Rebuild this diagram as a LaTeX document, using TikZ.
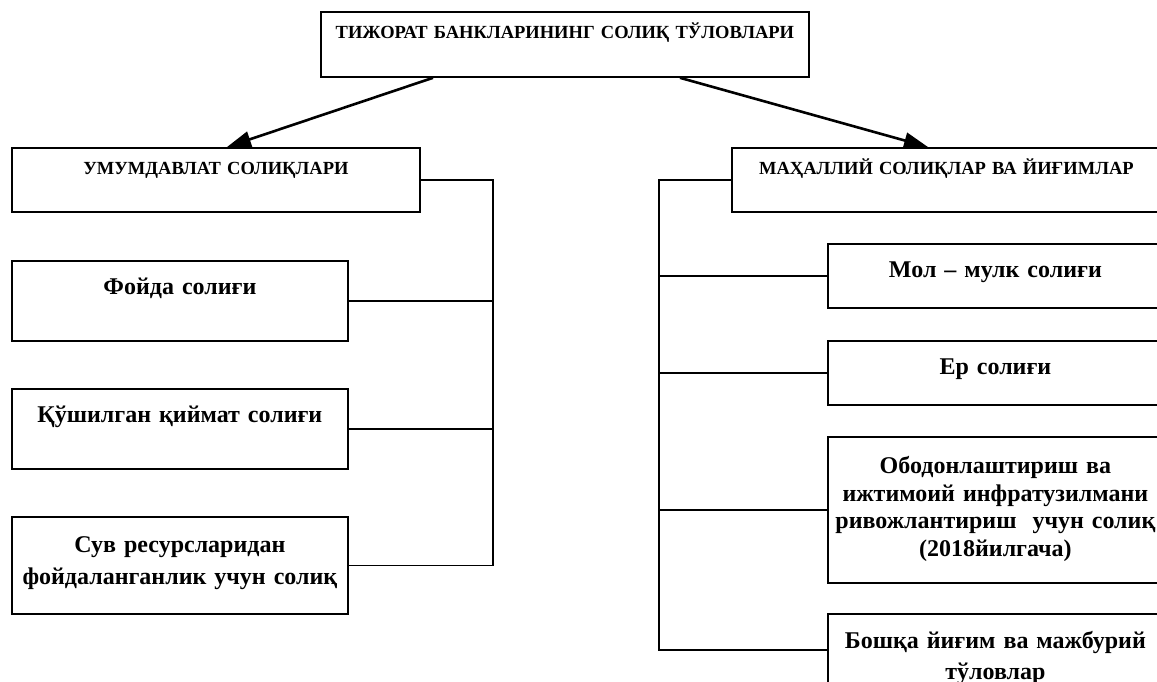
\documentclass[tikz,border=0pt]{standalone}
\usepackage{fontspec}
\setmainfont{Liberation Serif}
\usetikzlibrary{positioning, arrows.meta}
\tikzset{
  taxbox/.style={draw, line width=1.8pt, inner sep=0pt, align=center, anchor=north west,
    font=\bfseries\fontsize{24}{27.5}\selectfont, text height=34pt},
  headbox/.style={taxbox, font=\bfseries\fontsize{18.5}{22}\selectfont, text height=27pt},
  link/.style={line width=1.8pt},
  tiparrow/.style={line width=2.6pt, -{Triangle[length=24pt, width=16pt]}}
}

\begin{document}
\begin{tikzpicture}[x=1pt, y=-1pt]
    \useasboundingbox (0,0) rectangle (1157,681);

    \node[headbox, text width=488pt, text depth=38pt] (title) at (320,11) {ТИЖОРАТ БАНКЛАРИНИНГ СОЛИҚ ТЎЛОВЛАРИ};
    \node[headbox, text width=408pt, text depth=37pt] (gen) at (11,147) {УМУМДАВЛАТ СОЛИҚЛАРИ};
    \node[headbox, text width=429pt, text depth=37pt] (loc) at (731,147) {МАҲАЛЛИЙ СОЛИҚЛАР ВА ЙИҒИМЛАР};

    % general taxes
    \node[taxbox, text width=336pt, text depth=46pt] (p1) at (11,260) {Фойда солиғи};
    \node[taxbox, text width=336pt, text depth=46pt] (p2) at (11,388) {Қўшилган қиймат солиғи};
    \node[taxbox, text width=336pt, text height=36pt, text depth=61pt] (p3) at (11,516) {Сув ресурсларидан\\[4pt]фойдаланганлик учун солиқ};

    % local taxes
    \node[taxbox, text width=335pt, text depth=30pt] (r1) at (827,243) {Мол – мулк солиғи};
    \node[taxbox, text width=335pt, text depth=30pt] (r2) at (827,340) {Ер солиғи};
    \node[taxbox, text width=335pt, text height=37pt, text depth=109pt] (r3) at (827,436) {Ободонлаштириш ва\\ижтимоий инфратузилмани\\ривожлантириш\ \ учун солиқ\\(2018йилгача)};
    \node[taxbox, text width=335pt, text height=35pt, text depth=37pt] (r4) at (827,613) {Бошқа йиғим ва мажбурий\\[3pt]тўловлар};

    \draw[tiparrow] ([xshift=113pt]title.south west) -- ([xshift=216pt]gen.north west);
    \draw[tiparrow] ([xshift=360pt]title.south west) -- ([xshift=197pt]loc.north west);

    \coordinate (lbus) at ([xshift=72pt]gen.east);
    \draw[link] (gen.east) -- (lbus) |- (p3.east);
    \foreach \n in {p1,p2}
        \draw[link] (\n.east) -- (\n.east -| lbus);

    \coordinate (rbus) at ([xshift=-72pt]loc.west);
    \draw[link] (loc.west) -- (rbus) |- (r4.west);
    \foreach \n in {r1,r2,r3}
        \draw[link] (\n.west) -- (\n.west -| rbus);
\end{tikzpicture}
\end{document}
